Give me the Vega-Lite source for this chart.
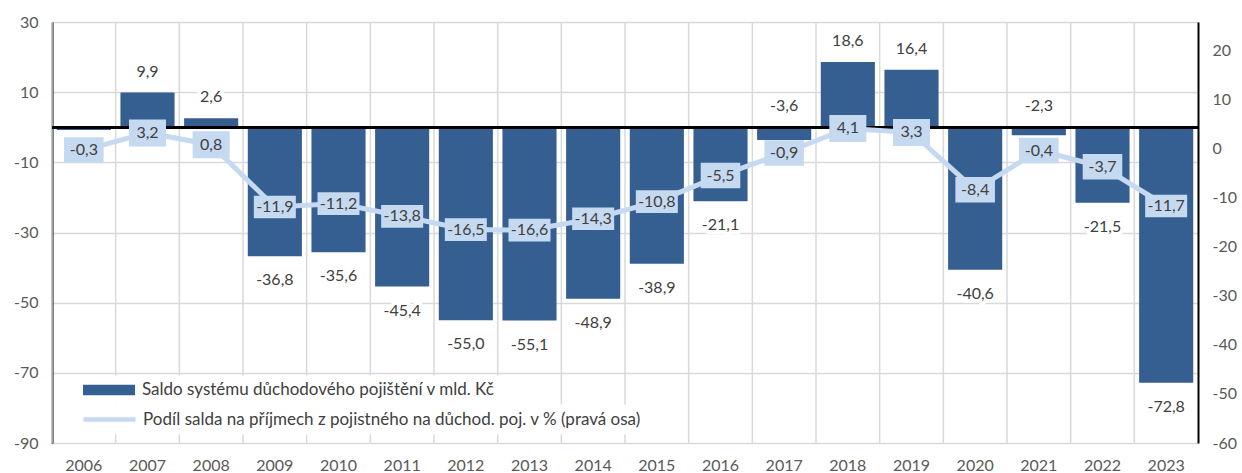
{
  "$schema": "https://vega.github.io/schema/vega-lite/v6.json",
  "width": 1146,
  "height": 421,
  "autosize": {"type": "none"},
  "padding": {"left": 52, "top": 22, "right": 44, "bottom": 30},
  "config": {
    "locale": {"number": {"decimal": ",", "thousands": " ", "grouping": [3], "currency": ["", " Kč"], "minus": "-"}},
    "font": "Lato",
    "view": {"stroke": null},
    "axis": {"labelFont": "Lato", "labelFontSize": 16, "labelColor": "#595959", "ticks": false, "title": null},
    "legend": {"labelFont": "Lato", "labelFontSize": 17, "labelColor": "#404040", "labelLimit": 800}
  },
  "data": {
    "values": [
      {"year": "2006", "saldo": -0.8, "podil": -0.3},
      {"year": "2007", "saldo": 9.9, "podil": 3.2},
      {"year": "2008", "saldo": 2.6, "podil": 0.8},
      {"year": "2009", "saldo": -36.8, "podil": -11.9},
      {"year": "2010", "saldo": -35.6, "podil": -11.2},
      {"year": "2011", "saldo": -45.4, "podil": -13.8},
      {"year": "2012", "saldo": -55.0, "podil": -16.5},
      {"year": "2013", "saldo": -55.1, "podil": -16.6},
      {"year": "2014", "saldo": -48.9, "podil": -14.3},
      {"year": "2015", "saldo": -38.9, "podil": -10.8},
      {"year": "2016", "saldo": -21.1, "podil": -5.5},
      {"year": "2017", "saldo": -3.6, "podil": -0.9},
      {"year": "2018", "saldo": 18.6, "podil": 4.1},
      {"year": "2019", "saldo": 16.4, "podil": 3.3},
      {"year": "2020", "saldo": -40.6, "podil": -8.4},
      {"year": "2021", "saldo": -2.3, "podil": -0.4},
      {"year": "2022", "saldo": -21.5, "podil": -3.7},
      {"year": "2023", "saldo": -72.8, "podil": -11.7}
    ]
  },
  "layer": [
    {
      "encoding": {
        "y": {
          "field": "saldo",
          "type": "quantitative",
          "scale": {"domain": [-90, 30], "nice": false, "zero": false},
          "axis": {
            "orient": "left",
            "values": [-90, -70, -50, -30, -10, 10, 30],
            "grid": true,
            "gridColor": "#D9D9D9",
            "gridWidth": 1.5,
            "domainColor": "#000000",
            "domainWidth": 2,
            "labelPadding": 14
          }
        }
      },
      "layer": [
        {
          "mark": {"type": "rule", "color": "#D9D9D9", "strokeWidth": 1.5},
          "encoding": {
            "x": {
              "field": "year",
              "type": "ordinal",
              "bandPosition": 0,
              "scale": {"paddingInner": 0, "paddingOuter": 0},
              "axis": {"labelAngle": 0, "labelPadding": 14, "domain": false, "ticks": false, "grid": false}
            },
            "y": null
          }
        },
        {
          "mark": {"type": "bar", "width": {"band": 0.85}},
          "encoding": {
            "x": {"field": "year", "type": "ordinal"},
            "fill": {
              "datum": "Saldo systému důchodového pojištění v mld. Kč",
              "scale": {"range": ["#365F91"]},
              "legend": {
                "orient": "none",
                "legendX": 42.5,
                "legendY": 353.5,
                "title": null,
                "symbolType": "M-4,-0.82L4,-0.82L4,0.82L-4,0.82Z",
                "symbolSize": 169,
                "symbolStrokeWidth": 0,
                "fillColor": "white",
                "padding": 6,
                "labelOffset": 24.5
              }
            }
          }
        },
        {
          "mark": {"type": "rule", "color": "#000000", "strokeWidth": 2},
          "encoding": {"y": {"datum": 0}}
        },
        {
          "transform": [
            {"filter": "datum.year != '2006'"},
            {"calculate": "datum.saldo > -5 ? max(datum.saldo, 0) : datum.saldo", "as": "ly"},
            {"filter": "datum.ly >= 0"}
          ],
          "layer": [
            {
              "mark": {"type": "text", "fontSize": 16, "font": "Lato", "stroke": "white", "strokeWidth": 8, "strokeJoin": "round", "fill": "white", "baseline": "middle", "dy": -21}
            },
            {
              "mark": {"type": "text", "fontSize": 16, "font": "Lato", "color": "#404040", "baseline": "middle", "dy": -21}
            }
          ],
          "encoding": {
            "x": {"field": "year", "type": "ordinal"},
            "y": {"field": "ly", "type": "quantitative"},
            "text": {"field": "saldo", "type": "quantitative", "format": ",.1f"}
          }
        },
        {
          "transform": [
            {"filter": "datum.year != '2006'"},
            {"calculate": "datum.saldo > -5 ? max(datum.saldo, 0) : datum.saldo", "as": "ly"},
            {"filter": "datum.ly < 0"}
          ],
          "layer": [
            {
              "mark": {"type": "text", "fontSize": 16, "font": "Lato", "stroke": "white", "strokeWidth": 8, "strokeJoin": "round", "fill": "white", "baseline": "middle", "dy": 24}
            },
            {
              "mark": {"type": "text", "fontSize": 16, "font": "Lato", "color": "#404040", "baseline": "middle", "dy": 24}
            }
          ],
          "encoding": {
            "x": {"field": "year", "type": "ordinal"},
            "y": {"field": "ly", "type": "quantitative"},
            "text": {"field": "saldo", "type": "quantitative", "format": ",.1f"}
          }
        }
      ]
    },
    {
      "encoding": {
        "x": {"field": "year", "type": "ordinal"},
        "y": {
          "field": "podil",
          "type": "quantitative",
          "scale": {"domain": [-60, 25.8], "nice": false, "zero": false},
          "axis": {
            "orient": "right",
            "values": [-60, -50, -40, -30, -20, -10, 0, 10, 20],
            "grid": false,
            "domainColor": "#000000",
            "domainWidth": 2,
            "labelPadding": 14
          }
        }
      },
      "layer": [
        {
          "mark": {"type": "line", "strokeWidth": 5},
          "encoding": {
            "stroke": {
              "datum": "Podíl salda na příjmech z pojistného na důchod. poj. v % (pravá osa)",
              "scale": {"range": ["#C5D9F1"]},
              "legend": {
                "orient": "none",
                "legendX": 42.5,
                "legendY": 382.5,
                "title": null,
                "symbolType": "M-4,0L4,0",
                "symbolSize": 169,
                "symbolStrokeWidth": 4.5,
                "fillColor": "white",
                "padding": 6,
                "labelOffset": 24.5
              }
            }
          }
        },
        {
          "transform": [
            {"calculate": "datum.podil >= 0 ? 'a' : (datum.podil > -10 ? 'b' : 'c')", "as": "bw"}
          ],
          "mark": {"type": "point", "filled": true, "fill": "#C5D9F1", "opacity": 1, "strokeWidth": 0},
          "encoding": {
            "shape": {
              "field": "bw",
              "type": "nominal",
              "scale": {
                "domain": ["a", "b", "c"],
                "range": ["M-1,-0.73L1,-0.73L1,0.73L-1,0.73Z", "M-1,-0.643L1,-0.643L1,0.643L-1,0.643Z", "M-1,-0.54L1,-0.54L1,0.54L-1,0.54Z"]
              },
              "legend": null
            },
            "size": {
              "field": "bw",
              "type": "ordinal",
              "scale": {"domain": ["a", "b", "c"], "range": [1369, 1764, 2500]},
              "legend": null
            }
          }
        },
        {
          "mark": {"type": "text", "fontSize": 16, "font": "Lato", "color": "#404040", "baseline": "middle"},
          "encoding": {
            "text": {"field": "podil", "type": "quantitative", "format": ",.1f"}
          }
        }
      ]
    }
  ],
  "resolve": {"scale": {"y": "independent"}}
}
